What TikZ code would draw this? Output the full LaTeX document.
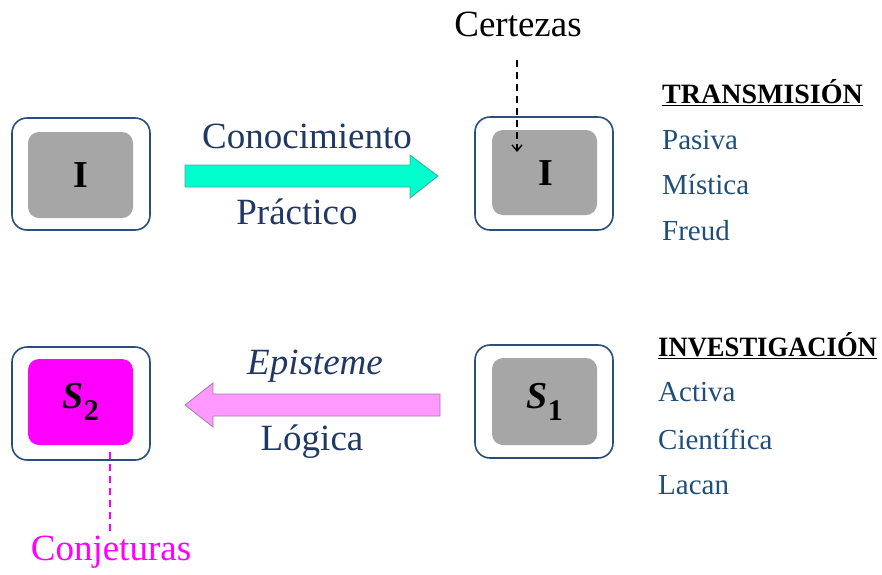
\documentclass[tikz,border=0pt]{standalone}
\usepackage{fontspec}
\setmainfont{Liberation Serif}
\usetikzlibrary{arrows.meta}
\definecolor{boxblue}{HTML}{2A4E7E}
\definecolor{navy}{HTML}{1F3864}
\definecolor{listblue}{HTML}{1F4E79}
\definecolor{innergray}{HTML}{A6A6A6}
\definecolor{turq}{HTML}{00FFCC}
\definecolor{turqline}{HTML}{3FA7A0}
\definecolor{pinkfill}{HTML}{FF99FF}
\definecolor{pinkline}{HTML}{A07AB0}
\definecolor{magenta2}{HTML}{FF00FF}
\tikzset{
  outerbox/.style={draw=boxblue, line width=1.6pt, rounded corners=15pt, fill=white},
  innerbox/.style={rounded corners=11pt},
  lbl/.style={font=\fontsize{37}{40}\selectfont, text=navy, inner sep=0pt},
  listitem/.style={font=\fontsize{29}{32}\selectfont, text=listblue, anchor=west, inner sep=0pt},
  heading/.style={font=\fontsize{28}{30}\selectfont\bfseries, text=black, anchor=west, inner sep=0pt},
  boxtext/.style={font=\fontsize{38}{40}\selectfont\bfseries, inner sep=0pt},
  dashline/.style={line width=1.4pt, dash pattern=on 7pt off 5pt},
}
\begin{document}
\begin{tikzpicture}[x=1pt,y=-1pt]
\useasboundingbox (0,0) rectangle (882,574);
% top-left box
\draw[outerbox] (12,118) rectangle (150,230);
\fill[innergray, innerbox] (28,132) rectangle (133,218);
\node[boxtext] (i1) at (81,175) {I};
% top-right box
\draw[outerbox] (475,117) rectangle (613,230);
\fill[innergray, innerbox] (492,130) rectangle (597,215);
\node[boxtext] (i2) at (546,173) {I};
% bottom-left box
\draw[outerbox] (12,347) rectangle (150,460);
\fill[magenta2, innerbox] (28,359) rectangle (133,445);
\node[boxtext] (s2) at (81,402) {\itshape S\textsubscript{\fontsize{30}{30}\selectfont\upshape 2}};
% bottom-right box
\draw[outerbox] (475,345) rectangle (613,458);
\fill[innergray, innerbox] (492,358) rectangle (597,445);
\node[boxtext] (s1) at (545,402) {\itshape S\textsubscript{\fontsize{30}{30}\selectfont\upshape 1}};
% turquoise arrow
\draw[fill=turq, draw=turqline, line width=0.8pt]
  (185,165) -- (410,165) -- (410,155) -- (438,176) -- (410,198) -- (410,187) -- (185,187) -- cycle;
% pink arrow
\draw[fill=pinkfill, draw=pinkline, line width=0.8pt]
  (440,394) -- (213,394) -- (213,383) -- (185,405) -- (213,427) -- (213,416) -- (440,416) -- cycle;
% labels
\node[lbl] (conoc) at (307,136) {Conocimiento};
\node[lbl] (pract) at (297,212) {Práctico};
\node[lbl, font=\fontsize{37}{40}\selectfont\itshape] (epist) at (315,366) {Episteme};
\node[lbl] (logic) at (312,442) {Lógica};
% Certezas
\node[font=\fontsize{37}{40}\selectfont, text=black, inner sep=0pt] (cert) at (518,24) {Certezas};
\coordinate (certstart) at (517,60);
\coordinate (certend) at (517,152);
\draw[dashline, -{Straight Barb[length=6pt,width=10pt,line width=1.4pt]}] (certstart) -- (certend);
% Conjeturas
\node[font=\fontsize{37}{40}\selectfont, text=magenta2, inner sep=0pt] (conj) at (111,552) {Conjeturas};
\coordinate (conjstart) at (110,452);
\coordinate (conjend) at (110,532);
\draw[dashline, magenta2] (conjstart) -- (conjend);
% lists
\node[heading] (trans) at (662,93) {\underline{TRANSMISIÓN}};
\node[listitem] (pas) at (662,140) {Pasiva};
\node[listitem] (mis) at (662,185) {Mística};
\node[listitem] (fre) at (662,231) {Freud};
\node[heading] (inv) at (658,346) {\scalebox{0.95}[1]{\underline{INVESTIGACIÓN}}};
\node[listitem] (act) at (658,392) {Activa};
\node[listitem] (cie) at (658,439) {Científica};
\node[listitem] (lac) at (658,485) {Lacan};
\end{tikzpicture}
\end{document}
